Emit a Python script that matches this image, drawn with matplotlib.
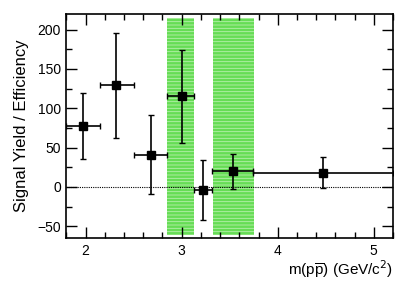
import matplotlib
matplotlib.use('Agg')
import matplotlib.pyplot as plt
from matplotlib.ticker import MultipleLocator

plt.rcParams['font.family'] = ['Liberation Sans', 'DejaVu Sans']
plt.rcParams['hatch.linewidth'] = 0.6

# bins in m(p pbar)
x_lo = [1.80, 2.15, 2.50, 2.85, 3.13, 3.32, 3.74]
x_hi = [2.15, 2.50, 2.85, 3.13, 3.32, 3.74, 5.20]
x_pt = [1.97, 2.32, 2.68, 3.00, 3.22, 3.53, 4.47]
y_val = [77, 129, 41, 115, -4, 20, 18]
y_up = [120, 196, 92, 174, 34, 42, 38]
y_dn = [35, 62, -9, 56, -42, -3, -2]

# excluded charmonium regions
bands = [(2.85, 3.13), (3.33, 3.75)]
band_y = (-61, 215)

fig, ax = plt.subplots(figsize=(4.15, 2.84), dpi=100)
fig.subplots_adjust(left=0.16, right=0.947, top=0.951, bottom=0.162)

for b0, b1 in bands:
    ax.fill_between([b0, b1], band_y[0], band_y[1], facecolor='#66dd55',
                    edgecolor='#b8f0ad', hatch='-----', linewidth=0, zorder=1)

ax.axhline(0, color='black', linestyle=(0, (1, 1)), linewidth=0.8, zorder=2)

xerr = [[p - lo for p, lo in zip(x_pt, x_lo)], [hi - p for p, hi in zip(x_pt, x_hi)]]
yerr = [[v - d for v, d in zip(y_val, y_dn)], [u - v for u, v in zip(y_up, y_val)]]
ax.errorbar(x_pt, y_val, xerr=xerr, yerr=yerr, fmt='s', color='black',
            markersize=6, elinewidth=1.2, capsize=2, capthick=1, zorder=3)

ax.set_xlim(1.8, 5.2)
ax.set_ylim(-65, 220)
ax.xaxis.set_major_locator(MultipleLocator(1))
ax.xaxis.set_minor_locator(MultipleLocator(0.2))
ax.yaxis.set_major_locator(MultipleLocator(50))
ax.yaxis.set_minor_locator(MultipleLocator(25))
ax.tick_params(which='both', direction='in', top=True, right=True, labelsize=10, width=1)
ax.tick_params(which='major', length=8, pad=4)
ax.tick_params(which='minor', length=4)
for s in ax.spines.values():
    s.set_linewidth(1.2)

ax.set_ylabel('Signal Yield / Efficiency', fontsize=12, labelpad=6)
ax.set_xlabel(r'm(p$\mathregular{\overline{p}}$) (GeV/c$^{2}$)', fontsize=11,
              loc='right', labelpad=1)

fig.savefig('out.png', dpi=100)
